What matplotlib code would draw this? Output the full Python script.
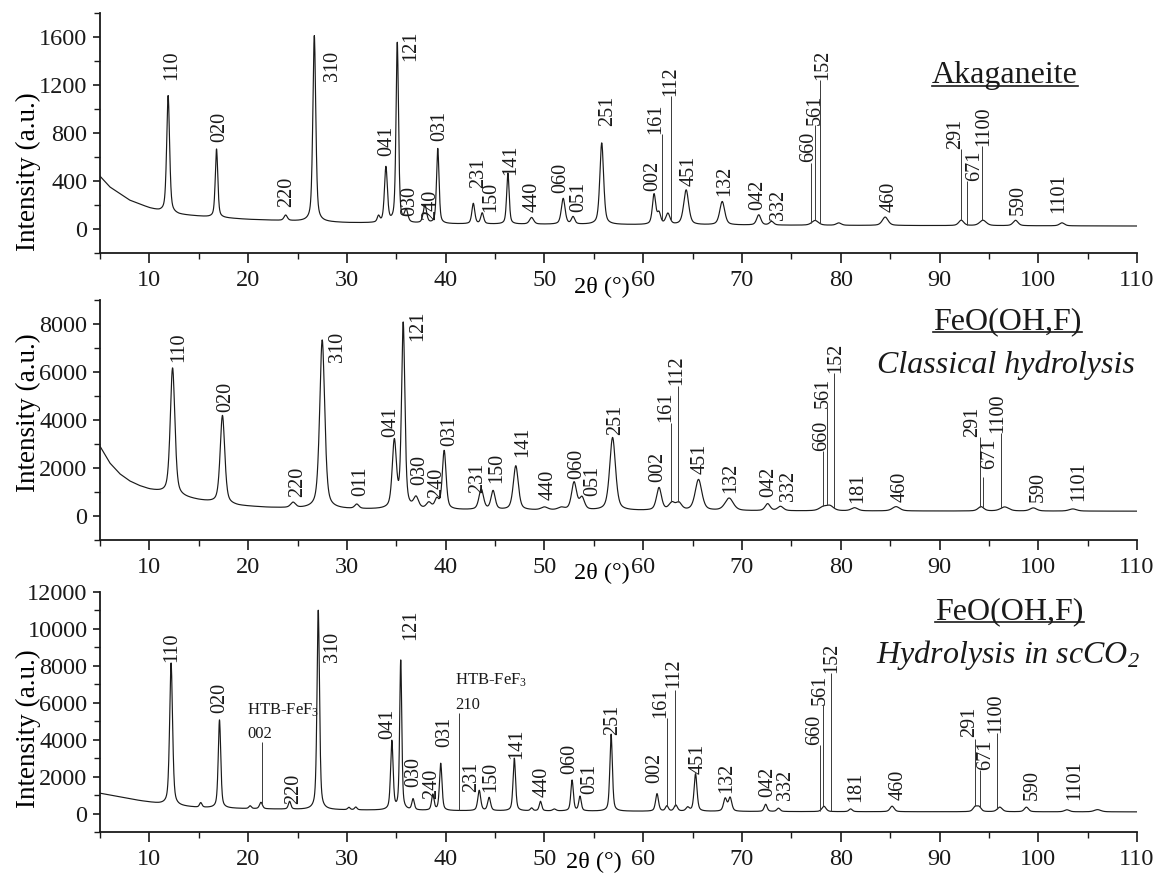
"""XRD patterns of akaganeite and FeO(OH,F) - three stacked panels."""
import numpy as np
import matplotlib
matplotlib.use("Agg")
import matplotlib.pyplot as plt
from matplotlib.ticker import MultipleLocator, FormatStrFormatter
from matplotlib.lines import Line2D

plt.rcParams["font.family"] = ["Liberation Serif", "DejaVu Serif"]
plt.rcParams["mathtext.fontset"] = "custom"
plt.rcParams["mathtext.rm"] = "Liberation Serif"
plt.rcParams["mathtext.it"] = "Liberation Serif:italic"
plt.rcParams["mathtext.default"] = "regular"

# ---- Akaganeite: background knots and peak list (2theta, height, fwhm)
AKA_BG_X = [5, 6, 8, 10, 11, 13, 16, 20, 25, 30, 40, 60, 80, 110]
AKA_BG_Y = [440, 350, 240, 175, 150, 120, 100, 80, 65, 52, 42, 35, 30, 25]
AKA_POS = [11.9, 16.8, 23.8, 26.7, 33.2, 33.95, 35.1, 36.0, 37.9, 39.2, 42.8,
           43.7, 46.3, 48.7, 51.9, 52.9, 55.8, 61.1, 61.6, 62.5, 64.35, 68.0,
           71.7, 73.0, 77.4, 79.8, 84.5, 92.2, 94.4, 97.7, 102.4]
AKA_HEIGHT = [975, 570, 45, 1550, 50, 460, 1500, 100, 150, 625, 170, 90, 425,
              55, 215, 60, 680, 250, 90, 90, 290, 195, 85, 30, 40, 20, 70, 45,
              45, 45, 25]
AKA_FWHM = [0.35, 0.3, 0.4, 0.35, 0.3, 0.35, 0.3, 0.4, 0.4, 0.3, 0.35, 0.35,
            0.3, 0.5, 0.45, 0.4, 0.45, 0.4, 0.4, 0.5, 0.6, 0.6, 0.5, 0.5, 0.8,
            0.6, 0.7, 0.6, 0.8, 0.6, 0.6]
AKA_HKL = ["110", "020", "220", "310", "041", "121", "030", "240", "031", "231",
           "150", "141", "440", "060", "051", "251", "002", "161", "112", "451",
           "132", "042", "332", "660", "561", "152", "460", "291", "671", "1100",
           "590", "1101"]
AKA_HKL_X = [12.24, 17.1, 23.9, 28.5, 34.0, 36.5, 36.35, 38.5, 39.35, 43.3,
             44.6, 46.6, 48.8, 51.7, 53.5, 56.4, 61.0, 61.3, 62.8, 64.7, 68.3,
             71.6, 73.7, 76.7, 77.4, 78.2, 84.9, 91.6, 93.6, 94.5, 98.0, 102.1]
AKA_HKL_Y = [1240, 724, 187, 1236, 607, 1404, 105, 75, 733, 341, 145, 453, 145,
             300, 145, 855, 313, 790, 1105, 355, 271, 159, 75, 555, 870, 1240,
             145, 665, 400, 695, 117, 131]
AKA_LEAD_X = [61.9, 62.8, 77.0, 77.4, 77.85, 92.2, 92.8, 94.35]
AKA_LEAD_TOP = [790, 1105, 551, 870, 1240, 663, 397, 691]

# ---- FeO(OH,F), classical hydrolysis
CH_BG_X = [5, 6, 7, 8, 9, 10, 11, 13, 15, 17, 19, 22, 25, 30, 35, 45, 55, 70, 110]
CH_BG_Y = [2900, 2200, 1750, 1450, 1250, 1100, 1000, 800, 650, 520, 420, 350,
           310, 280, 260, 240, 220, 210, 200]
CH_POS = [12.35, 17.4, 24.55, 27.5, 31.0, 34.8, 35.7, 37.0, 38.3, 39.1, 39.85,
          43.6, 44.8, 47.1, 50.0, 51.7, 53.0, 53.8, 56.9, 61.6, 62.9, 63.6,
          65.6, 68.7, 72.6, 73.9, 78.2, 78.9, 81.4, 85.6, 94.2, 96.6, 99.5, 103.5]
CH_HEIGHT = [5300, 3680, 220, 7030, 180, 2770, 7700, 450, 250, 380, 2440, 850,
             780, 1840, 120, 100, 1150, 500, 3040, 940, 300, 300, 1290, 520, 290,
             180, 150, 200, 130, 180, 180, 170, 130, 90]
CH_FWHM = [0.55, 0.55, 0.6, 0.6, 0.5, 0.5, 0.4, 0.6, 0.6, 0.5, 0.45, 0.55, 0.5,
           0.6, 0.8, 0.8, 0.6, 0.6, 0.7, 0.6, 0.7, 0.7, 0.8, 1.0, 0.6, 0.7, 0.9,
           0.9, 0.8, 0.9, 0.7, 1.0, 0.8, 0.9]
CH_HKL = ["110", "020", "220", "310", "011", "041", "121", "030", "240", "031",
          "231", "150", "141", "440", "060", "051", "251", "002", "161", "112",
          "451", "132", "042", "332", "660", "561", "152", "181", "460", "291",
          "671", "1100", "590", "1101"]
CH_HKL_X = [13.0, 17.75, 25.05, 29.0, 31.4, 34.4, 37.2, 37.4, 39.1, 40.45, 43.25,
            45.2, 47.8, 50.4, 53.3, 54.9, 57.2, 61.5, 62.3, 63.4, 65.8, 68.9,
            72.7, 74.75, 78.05, 78.25, 79.5, 81.7, 86.0, 93.4, 95.1, 95.9, 100.0,
            104.1]
CH_HKL_Y = [6431, 4348, 800, 6431, 833, 3278, 7306, 1292, 736, 2931, 972, 1361,
            2472, 667, 1528, 833, 3375, 1431, 3900, 5460, 1750, 945, 806, 639,
            2722, 4486, 5945, 556, 597, 3306, 1945, 3445, 597, 639]
CH_LEAD_X = [62.8, 63.57, 78.17, 78.6, 79.3, 94.05, 94.4, 96.2]
CH_LEAD_TOP = [3861, 5400, 2722, 4486, 5945, 3306, 1639, 3445]

# ---- FeO(OH,F), hydrolysis in scCO2
SC_BG_X = [5, 7, 9, 11, 13, 15, 20, 25, 30, 40, 60, 80, 110]
SC_BG_Y = [1100, 900, 700, 530, 400, 320, 260, 220, 190, 150, 120, 100, 90]
SC_POS = [12.2, 15.2, 17.1, 20.2, 21.3, 24.2, 27.1, 30.2, 30.9, 34.55, 35.45,
          36.7, 38.7, 39.5, 43.4, 44.4, 46.95, 48.7, 49.6, 51.0, 52.8, 53.6,
          56.75, 61.4, 62.4, 63.3, 64.5, 65.3, 68.3, 68.8, 72.4, 73.7, 78.3,
          81.0, 85.2, 93.6, 94.0, 96.1, 98.8, 102.9, 106.0]
SC_HEIGHT = [7700, 250, 4770, 150, 350, 420, 10800, 130, 150, 3730, 8130, 590,
             850, 2550, 1100, 710, 2860, 150, 515, 100, 1670, 780, 4180, 950,
             280, 330, 200, 2030, 680, 730, 390, 180, 290, 150, 300, 250, 250,
             250, 250, 110, 120]
SC_FWHM = [0.35, 0.3, 0.3, 0.3, 0.35, 0.3, 0.3, 0.3, 0.3, 0.3, 0.25, 0.3, 0.3,
           0.3, 0.35, 0.35, 0.3, 0.3, 0.3, 0.4, 0.3, 0.3, 0.3, 0.35, 0.35, 0.4,
           0.4, 0.35, 0.4, 0.4, 0.35, 0.4, 0.5, 0.4, 0.5, 0.5, 0.5, 0.6, 0.5,
           0.6, 0.8]
SC_HKL = ["110", "020", "220", "310", "041", "121", "030", "240", "031", "231",
          "150", "141", "440", "060", "051", "251", "002", "161", "112", "451",
          "132", "042", "332", "660", "561", "152", "181", "460", "291", "671",
          "1100", "590", "1101"]
SC_HKL_X = [12.24, 17.1, 24.6, 28.5, 34.1, 36.5, 36.8, 38.6, 39.9, 42.6, 44.6,
            47.2, 49.8, 52.6, 54.6, 56.9, 61.2, 61.75, 63.1, 65.6, 68.5, 72.6,
            74.4, 77.4, 77.9, 79.1, 81.5, 85.8, 93.0, 94.7, 95.7, 99.4, 103.7]
SC_HKL_Y = [8231, 5457, 526, 8231, 4061, 9409, 1432, 798, 3608, 1160, 1160,
            2973, 888, 2157, 1070, 4242, 1650, 5150, 6800, 2157, 1106, 888, 707,
            3700, 5874, 7597, 616, 707, 4150, 2339, 4369, 707, 707]
SC_LEAD_X = [21.4, 41.3, 62.4, 63.2, 77.86, 78.25, 79.0, 93.6, 94.1, 95.8]
SC_LEAD_TOP = [3880, 5420, 5150, 6690, 3700, 5874, 7597, 4061, 2339, 4369]
SC_HTB_TEXT = ["HTB-FeF$_3$", "002", "HTB-FeF$_3$", "210"]
SC_HTB_X = [19.9, 19.9, 40.95, 40.95]
SC_HTB_Y = [5600, 4300, 7230, 5870]

two_theta = np.arange(5.0, 110.0, 0.02)


def pattern(bg_x, bg_y, pos, height, fwhm, eta=0.5):
    """Background + pseudo-Voigt peaks."""
    y = np.interp(two_theta, bg_x, bg_y)
    for x0, h, w in zip(pos, height, fwhm):
        u = (two_theta - x0) / (w / 2)
        y = y + h * (eta / (1 + u ** 2) + (1 - eta) * np.exp(-np.log(2) * u ** 2))
    return y


panels = [
    dict(y=pattern(AKA_BG_X, AKA_BG_Y, AKA_POS, AKA_HEIGHT, AKA_FWHM),
         ylim=(-200, 1800), major=400, minor=200,
         hkl=(AKA_HKL, AKA_HKL_X, AKA_HKL_Y), lead=(AKA_LEAD_X, AKA_LEAD_TOP),
         title=("Akaganeite", 96.6, 1278), sub=None,
         bottom=0.7115, ylab_y=0.34, xlab=(55.8, -0.142)),
    dict(y=pattern(CH_BG_X, CH_BG_Y, CH_POS, CH_HEIGHT, CH_FWHM),
         ylim=(-1000, 9000), major=2000, minor=1000,
         hkl=(CH_HKL, CH_HKL_X, CH_HKL_Y), lead=(CH_LEAD_X, CH_LEAD_TOP),
         title=("FeO(OH,F)", 96.9, 8100),
         sub=("Classical hydrolysis", 96.7, 6290),
         bottom=0.3843, ylab_y=0.53, xlab=(55.8, -0.138)),
    dict(y=pattern(SC_BG_X, SC_BG_Y, SC_POS, SC_HEIGHT, SC_FWHM),
         ylim=(-1000, 12000), major=2000, minor=1000,
         hkl=(SC_HKL, SC_HKL_X, SC_HKL_Y), lead=(SC_LEAD_X, SC_LEAD_TOP),
         title=("FeO(OH,F)", 97.1, 10950),
         sub=("Hydrolysis in scCO$_2$", 96.9, 8594),
         bottom=0.0513, ylab_y=0.43, xlab=(55.0, -0.128)),
]

fig = plt.figure(figsize=(11.6, 8.77), dpi=100)
ink = "#1a1a1a"
underlined = []

for i, p in enumerate(panels):
    ax = fig.add_axes([0.0862, p["bottom"], 0.894, 0.2737])
    ax.plot(two_theta, p["y"], color=ink, lw=0.85)
    ax.set_xlim(5, 110)
    ax.set_ylim(*p["ylim"])
    for side in ("top", "right"):
        ax.spines[side].set_visible(False)
    for side in ("left", "bottom"):
        ax.spines[side].set_linewidth(1.3)
        ax.spines[side].set_color(ink)
    ax.xaxis.set_major_locator(MultipleLocator(10))
    ax.xaxis.set_minor_locator(MultipleLocator(5))
    ax.yaxis.set_major_locator(MultipleLocator(p["major"]))
    ax.yaxis.set_minor_locator(MultipleLocator(p["minor"]))
    ax.yaxis.set_major_formatter(FormatStrFormatter("%d"))
    ax.tick_params(which="major", direction="out", length=7, width=1.2,
                   labelsize=17.5, colors=ink, pad=5)
    ax.tick_params(which="minor", direction="out", length=4, width=1.0, colors=ink)
    ax.tick_params(axis="y", which="major", length=5, pad=4)

    ax.text(-0.069, p["ylab_y"], "Intensity (a.u.)", rotation=90,
            transform=ax.transAxes, ha="center", va="center", fontsize=19.5)
    ax.text(p["xlab"][0], p["xlab"][1], "2θ (°)", transform=ax.get_xaxis_transform(),
            ha="center", va="center", fontsize=17.5)

    # Miller index labels
    names, xs, ys = p["hkl"]
    for name, x, y in zip(names, xs, ys):
        ax.text(x, y, name, rotation=90, ha="center", va="bottom",
                fontsize=14.5, color=ink)

    # leader lines from the pattern up to the labels
    lx, ltop = p["lead"]
    base = np.interp(lx, two_theta, p["y"])
    ax.vlines(lx, base, ltop, color="#3a3a3a", lw=0.7)

    if i == 2:
        for txt, x, y in zip(SC_HTB_TEXT, SC_HTB_X, SC_HTB_Y):
            ax.text(x, y, txt, ha="left", va="center", fontsize=12, color=ink)

    t, tx, ty = p["title"]
    title = ax.text(tx, ty, t, ha="center", va="center", fontsize=23, color=ink)
    underlined.append(title)
    if p["sub"] is not None:
        s, sx, sy = p["sub"]
        ax.text(sx, sy, s, ha="center", va="center", fontsize=23,
                style="italic", color=ink)

# underline the sample names
fig.canvas.draw()
renderer = fig.canvas.get_renderer()
inv = fig.transFigure.inverted()
for t in underlined:
    bb = t.get_window_extent(renderer)
    y_line = bb.y0 + 0.14 * bb.height
    (x0, y0), (x1, _) = inv.transform([(bb.x0, y_line), (bb.x1, y_line)])
    fig.add_artist(Line2D([x0, x1], [y0, y0], color=ink, lw=1.2))

fig.savefig("out.png", dpi=100, facecolor="white")
